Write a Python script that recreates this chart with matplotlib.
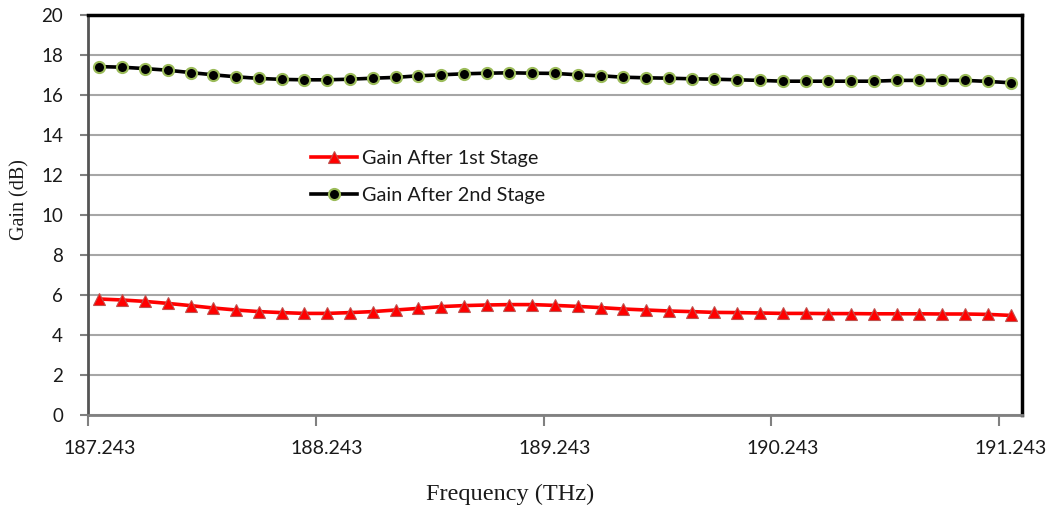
import matplotlib
matplotlib.use("Agg")
import matplotlib.pyplot as plt
from matplotlib.ticker import FixedLocator

freq_thz = [187.243, 187.343, 187.443, 187.543, 187.643, 187.743, 187.843, 187.943, 188.043, 188.143,
            188.243, 188.343, 188.443, 188.543, 188.643, 188.743, 188.843, 188.943, 189.043, 189.143,
            189.243, 189.343, 189.443, 189.543, 189.643, 189.743, 189.843, 189.943, 190.043, 190.143,
            190.243, 190.343, 190.443, 190.543, 190.643, 190.743, 190.843, 190.943, 191.043, 191.143,
            191.243]

gain_stage1 = [5.80, 5.75, 5.68, 5.58, 5.47, 5.35, 5.25, 5.17, 5.12, 5.08,
               5.08, 5.12, 5.17, 5.25, 5.33, 5.42, 5.47, 5.50, 5.52, 5.52,
               5.48, 5.43, 5.37, 5.30, 5.25, 5.20, 5.17, 5.13, 5.12, 5.10,
               5.08, 5.08, 5.07, 5.07, 5.06, 5.06, 5.06, 5.05, 5.05, 5.03,
               4.98]

gain_stage2 = [17.42, 17.39, 17.32, 17.24, 17.12, 17.01, 16.91, 16.83, 16.78, 16.76,
               16.76, 16.79, 16.84, 16.88, 16.96, 17.01, 17.06, 17.09, 17.11, 17.09,
               17.08, 17.01, 16.96, 16.89, 16.86, 16.84, 16.81, 16.79, 16.76, 16.73,
               16.69, 16.69, 16.69, 16.69, 16.69, 16.73, 16.73, 16.73, 16.73, 16.68,
               16.61]

label_freqs = ["187.243", "188.243", "189.243", "190.243", "191.243"]
y_ticks = [0, 2, 4, 6, 8, 10, 12, 14, 16, 18, 20]

SANS = ["Lato", "DejaVu Sans"]
SERIF = ["Liberation Serif", "DejaVu Serif"]

fig = plt.figure(figsize=(10.54, 5.11), dpi=100)
ax = fig.add_axes([88 / 1054, 1 - 415 / 511, (1022 - 88) / 1054, 400 / 511])

step = 0.1
ax.set_xlim(freq_thz[0] - step / 2, freq_thz[-1] + step / 2)
ax.set_ylim(0, 20)

ax.plot(freq_thz, gain_stage1, color="#ff0000", lw=2.6, marker="^", ms=9,
        mfc="#ff0000", mec="#c0504d", mew=0.8, label="Gain After 1st Stage", zorder=3)
ax.plot(freq_thz, gain_stage2, color="#000000", lw=2.6, marker="o", ms=8,
        mfc="#000000", mec="#9bbb59", mew=1.5, label="Gain After 2nd Stage", zorder=3)

# y axis
ax.set_yticks(y_ticks)
ax.set_yticklabels([str(v) for v in y_ticks], family=SANS, fontsize=13.5, color="#1a1a1a")
ax.tick_params(axis="y", direction="out", length=6, width=1.5, color="#808080", pad=12)
ax.grid(axis="y", color="#a6a6a6", lw=1.5, zorder=0)

# x axis: labels at category centres, ticks at category boundaries
label_pos = [float(s) for s in label_freqs]
ax.set_xticks(label_pos)
ax.set_xticklabels(label_freqs, family=SANS, fontsize=14, color="#1a1a1a")
ax.tick_params(axis="x", which="major", length=0, pad=18)
ax.xaxis.set_minor_locator(FixedLocator([p - step / 2 for p in label_pos]))
ax.tick_params(axis="x", which="minor", direction="out", length=8, width=1.5, color="#808080")

for side in ("top", "right"):
    ax.spines[side].set_color("#000000")
    ax.spines[side].set_linewidth(2.5)
ax.spines["left"].set_color("#555555")
ax.spines["left"].set_linewidth(2.0)
ax.spines["bottom"].set_color("#808080")
ax.spines["bottom"].set_linewidth(2.0)

fig.text(20 / 1054, 1 - 200 / 511, "Gain (dB)", rotation=90, ha="center", va="center",
         family=SERIF, fontsize=14.5, color="#1a1a1a")
fig.text(510 / 1054, 1 - 494 / 511, "Frequency (THz)", ha="center", va="center",
         family=SERIF, fontsize=17.5, color="#1a1a1a")

leg = ax.legend(loc="upper left", bbox_to_anchor=(311 / 1054, 1 - 150 / 511),
                bbox_transform=fig.transFigure, frameon=False,
                prop={"family": SANS, "size": 14.3}, handlelength=2.3,
                handletextpad=0.25, labelspacing=1.0, borderpad=0, borderaxespad=0)
for t in leg.get_texts():
    t.set_color("#1a1a1a")

fig.savefig("out.png", dpi=100)
